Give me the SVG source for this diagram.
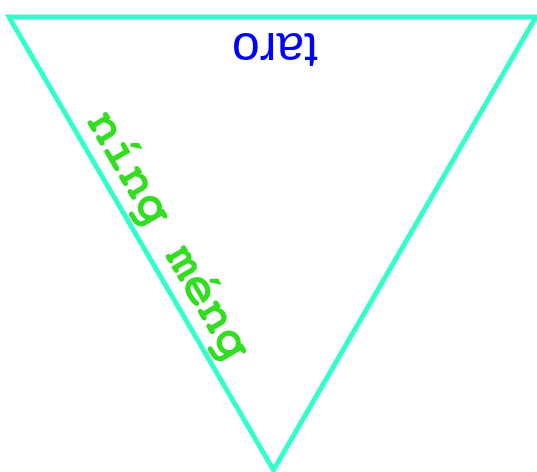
<svg xmlns="http://www.w3.org/2000/svg" width="537" height="472" viewBox="0 0 537 472">
<style>
.edge{fill:none;stroke:#33FFCC;stroke-width:5;stroke-linejoin:miter}
.lbl-top{font-family:"Liberation Sans",Arial,sans-serif;font-size:50px;fill:#0000FF}
.lbl-side{font-family:"Nimbus Mono PS","FreeMono","Liberation Mono","Courier New",monospace;font-size:52px;font-weight:bold;fill:#33DD22}
</style>
<g id="triangle">
<polygon class="edge" points="9,17 536,17 273.5,470"/>
</g>
<g id="label-taro">
<text class="lbl-top" x="275" y="33" text-anchor="middle" transform="rotate(180 275 33)">taro</text>
</g>
<g id="label-ningmeng">
<text class="lbl-side" x="86" y="121" transform="rotate(59.7 86 121)">níng méng</text>
</g>
</svg>
